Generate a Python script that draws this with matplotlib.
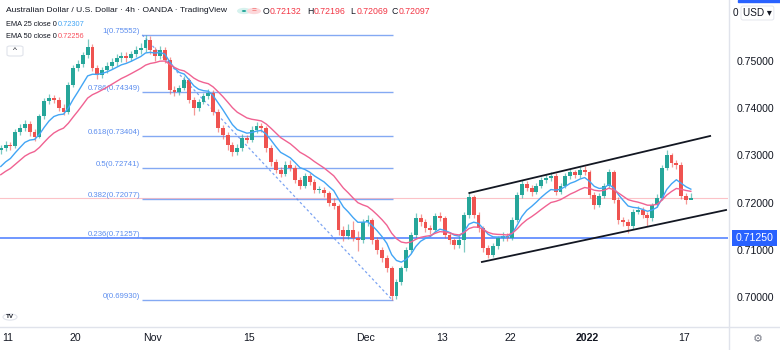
import matplotlib.pyplot as plt
import matplotlib.patches as patches
from matplotlib.lines import Line2D
import numpy as np
import pandas as pd

plt.rcParams['font.family'] = ['Liberation Sans', 'DejaVu Sans']

# AUD/USD, 12h candles (Oct 8 2021 .. Jan 17 2022)
first_open = 0.7311
closes = [
    0.7316, 0.7322, 0.7320, 0.7350, 0.7358, 0.7367, 0.7350, 0.7339, 0.7383, 0.7415,
    0.7422, 0.7417, 0.7400, 0.7392, 0.7449, 0.7485, 0.7494, 0.7513, 0.7530, 0.7485,
    0.7470, 0.7481, 0.7489, 0.7498, 0.7506, 0.7511, 0.7506, 0.7515, 0.7523, 0.7528,
    0.7545, 0.7523, 0.7511, 0.7523, 0.7502, 0.7439, 0.7434, 0.7443, 0.7460, 0.7417,
    0.7400, 0.7413, 0.7426, 0.7432, 0.7392, 0.7358, 0.7343, 0.7322, 0.7307, 0.7316,
    0.7337, 0.7333, 0.7354, 0.7362, 0.7358, 0.7316, 0.7286, 0.7269, 0.7261, 0.7280,
    0.7273, 0.7248, 0.7235, 0.7256, 0.7244, 0.7227, 0.7227, 0.7220, 0.7199, 0.7193,
    0.7142, 0.7129, 0.7142, 0.7125, 0.7121, 0.7159, 0.7163, 0.7121, 0.7100, 0.7083,
    0.7061, 0.7002, 0.7032, 0.7061, 0.7100, 0.7131, 0.7167, 0.7159, 0.7146, 0.7142,
    0.7172, 0.7167, 0.7131, 0.7121, 0.7110, 0.7121, 0.7174, 0.7212, 0.7174, 0.7146,
    0.7104, 0.7089, 0.7108, 0.7125, 0.7129, 0.7125, 0.7163, 0.7216, 0.7239, 0.7231,
    0.7222, 0.7235, 0.7248, 0.7252, 0.7256, 0.7222, 0.7235, 0.7256, 0.7265, 0.7258,
    0.7269, 0.7265, 0.7216, 0.7195, 0.7214, 0.7235, 0.7265, 0.7206, 0.7163, 0.7159,
    0.7150, 0.7180, 0.7184, 0.7174, 0.7167, 0.7195, 0.7210, 0.7273, 0.7301, 0.7284,
    0.7280, 0.7214, 0.7206, 0.72097,
]
highs = [
    0.7322, 0.7330, 0.7328, 0.7356, 0.7366, 0.7376, 0.7372, 0.7356, 0.7388, 0.7421,
    0.7430, 0.7428, 0.7424, 0.7408, 0.7455, 0.7492, 0.7503, 0.7520, 0.7546, 0.7536,
    0.7492, 0.7488, 0.7498, 0.7506, 0.7514, 0.7520, 0.7518, 0.7522, 0.7532, 0.7538,
    0.7555, 0.7552, 0.7530, 0.7532, 0.7530, 0.7508, 0.7446, 0.7450, 0.7468, 0.7465,
    0.7424, 0.7420, 0.7433, 0.7440, 0.7438, 0.7398, 0.7365, 0.7350, 0.7328, 0.7324,
    0.7345, 0.7344, 0.7362, 0.7370, 0.7368, 0.7362, 0.7322, 0.7292, 0.7275, 0.7288,
    0.7290, 0.7279, 0.7254, 0.7262, 0.7262, 0.7250, 0.7235, 0.7233, 0.7225, 0.7210,
    0.7198, 0.7150, 0.7155, 0.7160, 0.7140, 0.7165, 0.7173, 0.7168, 0.7128, 0.7106,
    0.7090, 0.7066, 0.7038, 0.7066, 0.7106, 0.7138, 0.7178, 0.7176, 0.7165, 0.7152,
    0.7178, 0.7180, 0.7172, 0.7138, 0.7126, 0.7130, 0.7180, 0.7223, 0.7216, 0.7180,
    0.7150, 0.7110, 0.7115, 0.7130, 0.7138, 0.7135, 0.7170, 0.7222, 0.7248, 0.7245,
    0.7238, 0.7242, 0.7254, 0.7260, 0.7264, 0.7262, 0.7242, 0.7262, 0.7272, 0.7270,
    0.7276, 0.7277, 0.7270, 0.7222, 0.7220, 0.7242, 0.7272, 0.7268, 0.7212, 0.7170,
    0.7165, 0.7186, 0.7192, 0.7190, 0.7180, 0.7200, 0.7218, 0.7280, 0.7311, 0.7305,
    0.7290, 0.7285, 0.7220, 0.72196,
]
lows = [
    0.7303, 0.7310, 0.7312, 0.7316, 0.7344, 0.7352, 0.7342, 0.7330, 0.7336, 0.7378,
    0.7408, 0.7410, 0.7394, 0.7385, 0.7388, 0.7444, 0.7478, 0.7488, 0.7506, 0.7478,
    0.7462, 0.7465, 0.7475, 0.7482, 0.7490, 0.7498, 0.7497, 0.7500, 0.7508, 0.7514,
    0.7520, 0.7515, 0.7500, 0.7505, 0.7495, 0.7430, 0.7425, 0.7428, 0.7438, 0.7410,
    0.7385, 0.7395, 0.7408, 0.7420, 0.7385, 0.7350, 0.7335, 0.7312, 0.7298, 0.7300,
    0.7310, 0.7326, 0.7328, 0.7348, 0.7350, 0.7308, 0.7278, 0.7262, 0.7254, 0.7256,
    0.7266, 0.7242, 0.7228, 0.7230, 0.7238, 0.7220, 0.7220, 0.7212, 0.7192, 0.7186,
    0.7132, 0.7118, 0.7122, 0.7118, 0.7098, 0.7115, 0.7150, 0.7112, 0.7092, 0.7074,
    0.7052, 0.6993, 0.6996, 0.7025, 0.7055, 0.7094, 0.7125, 0.7150, 0.7138, 0.7134,
    0.7138, 0.7160, 0.7124, 0.7112, 0.7102, 0.7104, 0.7095, 0.7168, 0.7168, 0.7138,
    0.7096, 0.7083, 0.7085, 0.7102, 0.7118, 0.7118, 0.7120, 0.7158, 0.7210, 0.7224,
    0.7215, 0.7218, 0.7230, 0.7242, 0.7246, 0.7216, 0.7218, 0.7230, 0.7250, 0.7252,
    0.7252, 0.7258, 0.7210, 0.7186, 0.7190, 0.7210, 0.7230, 0.7200, 0.7155, 0.7150,
    0.7136, 0.7145, 0.7175, 0.7168, 0.7150, 0.7162, 0.7190, 0.7205, 0.7268, 0.7276,
    0.7272, 0.7208, 0.7198, 0.72069,
]
# closes before the visible window, only used to seed the EMAs
warmup_closes = [0.7225, 0.7232, 0.7240, 0.7238, 0.7250, 0.7262, 0.7268, 0.7275, 0.7282, 0.7290]

# x axis is trading days counted from Oct 11
tick_days = [0, 7, 15, 25, 37, 45, 52, 60, 70]
tick_labels = ['11', '20', 'Nov', '15', 'Dec', '13', '22', '2022', '17']
price_ticks = [0.70, 0.71, 0.72, 0.73, 0.74, 0.75]

fib_names = ['1', '0.786', '0.618', '0.5', '0.382', '0.236', '0']
fib_values = [0.75552, 0.74349, 0.73404, 0.72741, 0.72077, 0.71257, 0.69930]
fib_span = [13.9, 39.85]
support_level = 0.7125
last_price = 0.72097
ema25_last, ema50_last = 0.72307, 0.72256
upper_channel = ([47.8, 72.75], [0.72203, 0.73411])
lower_channel = ([49.1, 74.4], [0.70742, 0.71843])

UP, DOWN = '#26a69a', '#ef5350'
FIB = '#5b8def'
TEXT = '#131722'
GRAYLINE = '#e0e3eb'
EMA25_C, EMA50_C = '#42a5f5', '#f06292'

W, H = 780, 350


def fx(x):
    return x / W


def fy(y):
    return 1 - y / H


n = len(closes)
bar_x = np.arange(n) * 0.5 - 0.75
closes_a = np.array(closes)
opens = np.r_[first_open, closes_a[:-1]]

seeded = pd.Series(warmup_closes + closes)
ema25 = seeded.ewm(span=25 / 3, adjust=False).mean().to_numpy()[len(warmup_closes):]
ema50 = seeded.ewm(span=50 / 3, adjust=False).mean().to_numpy()[len(warmup_closes):]

fig = plt.figure(figsize=(W / 100, H / 100), dpi=100)
ax = fig.add_axes([0, 23 / H, 728 / W, 327 / H])
ax.set_xlim(-0.83, 74.6)
ax.set_ylim(0.69364, 0.76292)

# last price line and the 0.7125 support line
ax.axhline(last_price, color='#f7525f', lw=0.8, alpha=0.35, zorder=1)
ax.axhline(support_level, color='#4c7dff', lw=1.4, alpha=0.8, zorder=2)

# fibonacci retracement
for name, v in zip(fib_names, fib_values):
    ax.hlines(v, fib_span[0], fib_span[1], color=FIB, lw=1, alpha=0.75, zorder=2)
    ax.annotate(f'{name}({v:.5f})', xy=(fib_span[0], v), xytext=(-1.5, 2.5),
                textcoords='offset points', ha='right', va='center',
                fontsize=5.6, color=FIB)
ax.plot(fib_span, [fib_values[0], fib_values[-1]], ls=(0, (2, 2)), color=FIB,
        lw=0.9, alpha=0.8, zorder=2)

# candles
colors = np.where(closes_a >= opens, UP, DOWN)
ax.vlines(bar_x, lows, highs, colors=colors, lw=0.9, alpha=0.6, zorder=3)
body_bottom = np.minimum(opens, closes_a)
body_h = np.maximum(np.abs(closes_a - opens), 0.00008)
ax.bar(bar_x, body_h, width=0.4, bottom=body_bottom, color=colors, linewidth=0, zorder=4)

# moving averages
ax.plot(bar_x, ema25, color=EMA25_C, lw=1, zorder=5)
ax.plot(bar_x, ema50, color=EMA50_C, lw=1, zorder=5)

# rising channel
ax.plot(*upper_channel, color=TEXT, lw=1.3, zorder=6)
ax.plot(*lower_channel, color=TEXT, lw=1.3, zorder=6)

# axes
ax.yaxis.tick_right()
ax.set_yticks(price_ticks)
ax.set_yticklabels([f'{v:.5f}' for v in price_ticks])
ax.tick_params(axis='y', length=0, pad=6.5, labelsize=7.6, labelcolor=TEXT)
ax.set_xticks(tick_days)
ax.set_xticklabels(tick_labels)
ax.tick_params(axis='x', length=0, pad=4.5, labelsize=7.6, labelcolor=TEXT)
ax.get_xticklabels()[tick_labels.index('2022')].set_fontweight('bold')
for s in ['top', 'left', 'bottom', 'right']:
    ax.spines[s].set_visible(False)
fig.add_artist(Line2D([0, 1], [fy(327), fy(327)], color=GRAYLINE, lw=1))
fig.add_artist(Line2D([fx(729), fx(729)], [0, 1], color=GRAYLINE, lw=1))

ax.annotate(f'{support_level:.5f}', xy=(1, support_level), xycoords=('axes fraction', 'data'),
            xytext=(5.5, 0), textcoords='offset points', ha='left', va='center',
            fontsize=7.6, color='white',
            bbox=dict(boxstyle='square,pad=0.32', fc='#2962ff', ec='none'))

# header
fig.text(fx(6), fy(11), 'Australian Dollar / U.S. Dollar · 4h · OANDA · TradingView',
         fontsize=6.1, color=TEXT, va='center')
fig.add_artist(patches.Circle((fx(244), fy(11)), 7 / W, transform=fig.transFigure,
                              fc='#d6f2ee', ec='none'))
fig.add_artist(patches.Circle((fx(244), fy(11)), 2.2 / W, transform=fig.transFigure,
                              fc=UP, ec='none'))
fig.add_artist(patches.Circle((fx(254), fy(11)), 7 / W, transform=fig.transFigure,
                              fc='#fcd7da', ec='none'))
fig.text(fx(254), fy(11), '=', fontsize=6, color=DOWN, ha='center', va='center')

ohlc = [('O', 0.72132), ('H', 0.72196), ('L', 0.72069), ('C', closes[-1])]
for (k, v), x0 in zip(ohlc, [263, 307, 350, 392]):
    fig.text(fx(x0), fy(11), k, fontsize=6.3, color=TEXT, va='center')
    fig.text(fx(x0 + 7), fy(11), f'{v:.5f}', fontsize=6.3, color='#f23645', va='center')

fig.text(fx(6), fy(24), 'EMA 25 close 0', fontsize=5.3, color=TEXT, va='center')
fig.text(fx(58), fy(24), f'{ema25_last:.5f}', fontsize=5.3, color=EMA25_C, va='center')
fig.text(fx(6), fy(37), 'EMA 50 close 0', fontsize=5.3, color=TEXT, va='center')
fig.text(fx(58), fy(37), f'{ema50_last:.5f}', fontsize=5.3, color='#f7525f', va='center')
fig.add_artist(patches.FancyBboxPatch((fx(7), fy(56)), 16 / W, 10 / H,
                                      boxstyle='round,pad=0,rounding_size=0.004',
                                      transform=fig.transFigure, fc='white', ec=GRAYLINE, lw=0.8))
fig.text(fx(15), fy(51), '^', fontsize=6, color=TEXT, ha='center', va='center')

# top right currency badge
fig.add_artist(patches.Rectangle((fx(738), fy(1.5)), 42 / W, 1.5 / H,
                                 transform=fig.transFigure, color='#2962ff'))
fig.text(fx(733), fy(13), '0', fontsize=7.2, color=TEXT, va='center')
fig.text(fx(743), fy(13), 'USD ▾', fontsize=7.2, color=TEXT, va='center',
         bbox=dict(boxstyle='round,pad=0.2', fc='white', ec=GRAYLINE, lw=0.6))

# TradingView logo and settings gear
fig.add_artist(patches.Circle((fx(10), fy(317)), 7 / W, transform=fig.transFigure,
                              fc='white', ec=GRAYLINE, lw=0.8))
fig.text(fx(10), fy(317), 'TV', fontsize=4.5, fontweight='bold', color=TEXT,
         ha='center', va='center')
fig.text(fx(758), fy(339), '⚙', fontsize=8, color='#787b86', ha='center', va='center',
         family='DejaVu Sans')

fig.savefig('out.png', dpi=100, facecolor='white')
